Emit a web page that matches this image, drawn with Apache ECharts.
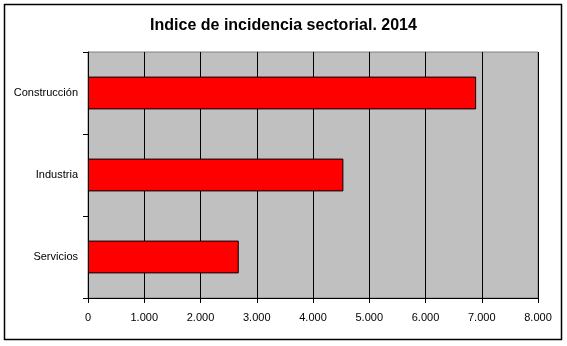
<!DOCTYPE html>
<html>
<head>
<meta charset="utf-8">
<script src="https://cdn.jsdelivr.net/npm/echarts@6/dist/echarts.min.js"></script>
<style>
  html, body { margin: 0; padding: 0; background: #fff; }
  #chart { width: 567px; height: 346px; }
</style>
</head>
<body>
<div id="chart"></div>
<script>
// Sectors and their incidence index for 2014
const categories = ['Construcción', 'Industria', 'Servicios'];
const values = [6900, 4540, 2680];
const titleText = 'Indice de incidencia sectorial. 2014';

const fmt = v => String(v).replace(/\B(?=(\d{3})+(?!\d))/g, '.');

const chart = echarts.init(document.getElementById('chart'), null, { renderer: 'canvas' });
chart.setOption({
  animation: false,
  backgroundColor: '#ffffff',
  title: {
    text: titleText,
    left: 'center',
    top: 13,
    textStyle: { fontFamily: 'Liberation Sans', fontWeight: 'bold', fontSize: 16, color: '#000' }
  },
  graphic: [{
    type: 'rect',
    shape: { x: 4.5, y: 4.5, width: 557, height: 335 },
    style: { fill: 'none', stroke: '#000', lineWidth: 1.5 },
    z: 100
  }],
  grid: {
    left: 88, top: 52, width: 450, height: 246,
    show: true, backgroundColor: '#C0C0C0', borderColor: '#808080', borderWidth: 1
  },
  xAxis: {
    type: 'value', min: 0, max: 8000, interval: 1000,
    axisLine: { show: true, lineStyle: { color: '#000', width: 1 } },
    axisTick: { show: true, length: 5, lineStyle: { color: '#000' } },
    splitLine: { show: true, lineStyle: { color: '#000', width: 1 } },
    axisLabel: {
      margin: 14, color: '#000', fontFamily: 'Liberation Sans', fontSize: 11,
      formatter: fmt
    }
  },
  yAxis: {
    type: 'category', data: categories, inverse: true,
    axisLine: { show: true, lineStyle: { color: '#000', width: 1 } },
    axisTick: { show: true, length: 5, lineStyle: { color: '#000' } },
    splitLine: { show: false },
    axisLabel: { margin: 10, color: '#000', fontFamily: 'Liberation Sans', fontSize: 11 }
  },
  series: [{
    type: 'bar',
    data: values,
    barCategoryGap: '60%',
    itemStyle: { color: '#FF0000', borderColor: '#000', borderWidth: 1 }
  }]
});
</script>
</body>
</html>
